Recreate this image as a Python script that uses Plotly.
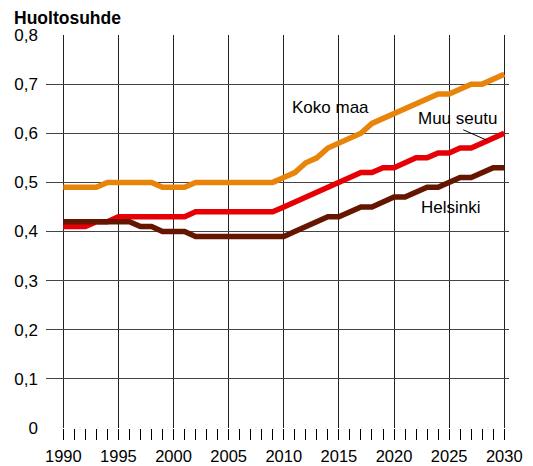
import plotly.graph_objects as go

years = list(range(1990, 2031))

koko_maa = [0.49, 0.49, 0.49, 0.49, 0.50, 0.50, 0.50, 0.50, 0.50, 0.49,
            0.49, 0.49, 0.50, 0.50, 0.50, 0.50, 0.50, 0.50, 0.50, 0.50,
            0.51, 0.52, 0.54, 0.55, 0.57, 0.58, 0.59, 0.60, 0.62, 0.63,
            0.64, 0.65, 0.66, 0.67, 0.68, 0.68, 0.69, 0.70, 0.70, 0.71,
            0.72]

muu_seutu = [0.41, 0.41, 0.41, 0.42, 0.42, 0.43, 0.43, 0.43, 0.43, 0.43,
             0.43, 0.43, 0.44, 0.44, 0.44, 0.44, 0.44, 0.44, 0.44, 0.44,
             0.45, 0.46, 0.47, 0.48, 0.49, 0.50, 0.51, 0.52, 0.52, 0.53,
             0.53, 0.54, 0.55, 0.55, 0.56, 0.56, 0.57, 0.57, 0.58, 0.59,
             0.60]

helsinki = [0.42, 0.42, 0.42, 0.42, 0.42, 0.42, 0.42, 0.41, 0.41, 0.40,
            0.40, 0.40, 0.39, 0.39, 0.39, 0.39, 0.39, 0.39, 0.39, 0.39,
            0.39, 0.40, 0.41, 0.42, 0.43, 0.43, 0.44, 0.45, 0.45, 0.46,
            0.47, 0.47, 0.48, 0.49, 0.49, 0.50, 0.51, 0.51, 0.52, 0.53,
            0.53]

x_major = [1990, 1995, 2000, 2005, 2010, 2015, 2020, 2025, 2030]
x_minor = [y for y in years if y not in x_major]
y_ticks = [0, 0.1, 0.2, 0.3, 0.4, 0.5, 0.6, 0.7, 0.8]
y_ticktext = ["0", "0,1", "0,2", "0,3", "0,4", "0,5", "0,6", "0,7", "0,8"]

FONT = "Liberation Sans, Arial, sans-serif"

series = [
    ("Koko maa", koko_maa, "#E8840A"),
    ("Muu seutu", muu_seutu, "#E60005"),
    ("Helsinki", helsinki, "#661600"),
]

fig = go.Figure()
for name, vals, col in series:
    fig.add_trace(go.Scatter(x=years, y=vals, mode="lines", name=name,
                             line=dict(color=col, width=5.5)))

label_pos = {"Koko maa": (2014.26, 0.652), "Muu seutu": (2025.76, 0.630),
             "Helsinki": (2025.14, 0.448)}
for name, (lx, ly) in label_pos.items():
    fig.add_annotation(x=lx, y=ly, xref="x", yref="y", text=name, showarrow=False,
                       font=dict(family=FONT, size=17, color="#000"),
                       xanchor="center", yanchor="middle")

# leader line for "Muu seutu"
fig.add_shape(type="line", xref="x", yref="y", x0=2026.28, y0=0.607, x1=2028.40, y1=0.586,
              line=dict(color="#000", width=1))

fig.update_layout(
    width=533, height=466,
    margin=dict(l=46, r=24, t=35, b=38, autoexpand=False),
    paper_bgcolor="white", plot_bgcolor="white",
    showlegend=False,
    font=dict(family=FONT, size=17, color="#000"),
    title=dict(text="<b>Huoltosuhde</b>", xref="container", yref="container",
               x=14 / 533, xanchor="left", y=1 - 17.5 / 466, yanchor="middle",
               font=dict(family=FONT, size=17.5, color="#000")),
)

fig.update_xaxes(
    range=[1988.43, 2030.43],
    tickmode="array", tickvals=x_major, ticktext=[str(v) for v in x_major],
    ticks="outside", ticklen=11, tickwidth=1, tickcolor="#000",
    showgrid=True, gridcolor="#222", gridwidth=1,
    zeroline=False, showline=False, automargin=False,
    minor=dict(tickmode="array", tickvals=x_minor, ticks="outside", ticklen=11,
               tickwidth=1, tickcolor="#000", showgrid=False),
    tickfont=dict(family=FONT, size=16.5, color="#000"),
    ticklabelstandoff=2,
    fixedrange=True,
)
fig.update_yaxes(
    range=[0, 0.8],
    tickmode="array", tickvals=y_ticks, ticktext=y_ticktext,
    ticks="", showgrid=True, gridcolor="#444", gridwidth=1,
    zeroline=False, showline=False, automargin=False,
    tickfont=dict(family=FONT, size=17, color="#000"),
    ticklabelstandoff=7,
    fixedrange=True,
)

fig.write_html("out.html", config={"displayModeBar": False},
               post_script="document.body.style.margin='0px';document.body.style.padding='0px';")
